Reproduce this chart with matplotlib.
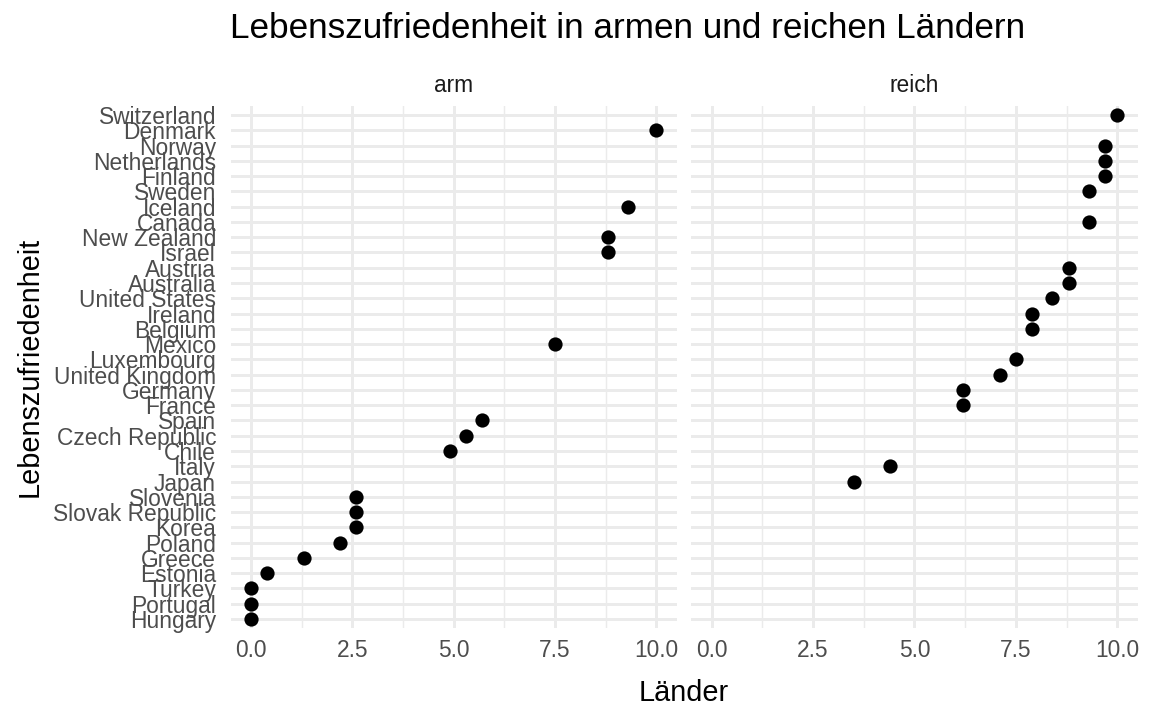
import matplotlib
matplotlib.use("Agg")
import matplotlib.pyplot as plt
from matplotlib.ticker import FixedLocator

plt.rcParams['font.family'] = ['Liberation Sans', 'DejaVu Sans']

# Data (bottom to top order on the y axis)
countries = ["Hungary", "Portugal", "Turkey", "Estonia", "Greece", "Poland", "Korea",
             "Slovak Republic", "Slovenia", "Japan", "Italy", "Chile", "Czech Republic",
             "Spain", "France", "Germany", "United Kingdom", "Luxembourg", "Mexico",
             "Belgium", "Ireland", "United States", "Australia", "Austria", "Israel",
             "New Zealand", "Canada", "Iceland", "Sweden", "Finland", "Netherlands",
             "Norway", "Denmark", "Switzerland"]
values = [0.0, 0.0, 0.0, 0.4, 1.3, 2.2, 2.6, 2.6, 2.6, 3.5, 4.4, 4.9, 5.3, 5.7, 6.2, 6.2,
          7.1, 7.5, 7.5, 7.9, 7.9, 8.4, 8.8, 8.8, 8.8, 8.8, 9.3, 9.3, 9.3, 9.7, 9.7, 9.7,
          10.0, 10.0]
groups = ["arm", "arm", "arm", "arm", "arm", "arm", "arm", "arm", "arm", "reich", "reich",
          "arm", "arm", "arm", "reich", "reich", "reich", "reich", "arm", "reich", "reich",
          "reich", "reich", "reich", "arm", "arm", "reich", "arm", "reich", "reich", "reich",
          "reich", "arm", "reich"]
facets = ["arm", "reich"]
x_ticks = [0.0, 2.5, 5.0, 7.5, 10.0]
x_minor = [1.25, 3.75, 6.25, 8.75]
x_ticklabels = ["0.0", "2.5", "5.0", "7.5", "10.0"]

W, H = 1152, 711
fig = plt.figure(figsize=(W / 100, H / 100), dpi=100)

top_px, bot_px = 105.8, 628.2
panels_px = [(230.6, 676.6), (691.4, 1137.6)]

grid_col = "#EBEBEB"
ypos = list(range(len(countries)))
for i, (f, (l, r)) in enumerate(zip(facets, panels_px)):
    ax = fig.add_axes([l / W, 1 - bot_px / H, (r - l) / W, (bot_px - top_px) / H])
    xs = [v for v, g in zip(values, groups) if g == f]
    ys = [p for p, g in zip(ypos, groups) if g == f]
    ax.scatter(xs, ys, s=105, color="black", zorder=3, linewidths=0)
    ax.set_xlim(-0.5, 10.5)
    ax.set_ylim(-0.6, len(countries) - 1 + 0.6)
    ax.xaxis.set_major_locator(FixedLocator(x_ticks))
    ax.xaxis.set_minor_locator(FixedLocator(x_minor))
    ax.set_xticklabels(x_ticklabels)
    ax.set_yticks(ypos)
    if i == 0:
        ax.set_yticklabels(countries)
    else:
        ax.set_yticklabels([])
    ax.grid(True, which="major", axis="both", color=grid_col, linewidth=2.1, zorder=0)
    ax.grid(True, which="minor", axis="x", color=grid_col, linewidth=1.05, zorder=0)
    ax.set_axisbelow(True)
    for s in ax.spines.values():
        s.set_visible(False)
    ax.tick_params(axis="both", which="both", length=0, labelsize=16.4, colors="#4D4D4D")
    ax.tick_params(axis="y", pad=10.5)
    ax.tick_params(axis="x", pad=8)
    fig.text((l + r) / 2 / W, 1 - 92 / H, f, ha="center", va="baseline",
             fontsize=16.4, color="#1A1A1A")

fig.text(628 / W, 1 - 37.5 / H, "Lebenszufriedenheit in armen und reichen Ländern",
         ha="center", va="baseline", fontsize=25.3, color="black")
fig.text(684 / W, 1 - 701 / H, "Länder", ha="center", va="baseline",
         fontsize=20.8, color="black")
fig.text(30 / W, 1 - 367 / H, "Lebenszufriedenheit", ha="center", va="center",
         rotation=90, fontsize=20.8, color="black")

fig.savefig("out.png", dpi=100, facecolor="white")
